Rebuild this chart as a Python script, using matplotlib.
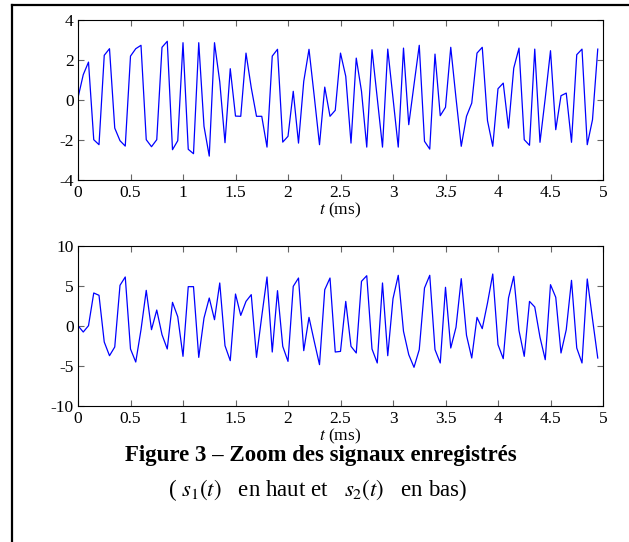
import numpy as np
import matplotlib.pyplot as plt
from matplotlib.lines import Line2D

dt = 0.05  # ms

s1 = [0.1, 1.25, 1.88, -2.0, -2.25, 2.22, 2.55, -1.42, -2.05, -2.32,
      2.18, 2.55, 2.72, -2.0, -2.35, -2.0, 2.62, 2.92, -2.5, -2.05,
      2.85, -2.48, -2.7, 2.85, -1.33, -2.82, 2.85, 0.9, -2.15, 1.55,
      -0.82, -0.83, 2.33, 0.6, -0.83, -0.83, -2.37, 2.18, 2.52, -2.12,
      -1.83, 0.42, -2.17, 0.92, 2.52, 0.17, -2.25, 0.63, -0.83, -0.53,
      2.33, 1.17, -2.17, 2.08, 0.42, -2.37, 2.5, 0.08, -2.37, 2.53,
      0.08, -2.37, 2.58, -1.25, 0.75, 2.72, -2.08, -2.47, 2.28, -0.8,
      -0.38, 2.62, 0.08, -2.33, -0.83, -0.17, 2.33, 2.62, -1.05, -2.33,
      0.55, 0.83, -1.42, 1.58, 2.58, -2.0, -2.28, 2.53, -2.13, 0.08,
      2.45, -1.5, 0.2, 0.33, -2.13, 2.25, 2.53, -2.25, -1.0, 2.53]

s2 = [0.0, -0.79, 0.0, 4.09, 3.8, -2.04, -3.75, -2.66, 5.05, 6.09,
      -2.91, -4.54, -0.5, 4.42, -0.5, 1.96, -1.12, -2.91, 2.92, 1.12,
      -3.83, 4.88, 4.88, -3.96, 0.96, 3.46, 0.75, 5.34, -2.5, -4.37,
      3.96, 1.29, 3.04, 3.88, -3.96, 1.17, 6.09, -3.29, 4.38, -2.58,
      -4.46, 4.92, 5.96, -3.12, 1.04, -1.96, -4.87, 4.5, 5.96, -3.29,
      -3.21, 3.04, -2.58, -3.41, 5.55, 6.25, -2.91, -4.66, 5.34, -3.75,
      3.38, 6.3, -0.7, -3.62, -5.2, -2.99, 4.71, 6.3, -2.99, -4.66,
      4.8, -2.79, -0.2, 5.88, -1.2, -4.04, 1.04, -0.37, 2.84, 6.46,
      -2.37, -4.12, 3.46, 6.17, -0.62, -3.83, 3.04, 2.34, -1.45, -4.25,
      5.13, 3.55, -3.41, -0.5, 5.67, -2.79, -4.66, 5.84, 0.84, -4.04]

t = np.arange(len(s1)) * dt

xticks = [0, 0.5, 1, 1.5, 2, 2.5, 3, 3.5, 4, 4.5, 5]
xlabels = ["0", "0.5", "1", "1.5", "2", "2.5", "3", "3.5", "4", "4.5", "5"]
yticks1 = [-4, -2, 0, 2, 4]
yticks2 = [-10, -5, 0, 5, 10]

plt.rcParams['font.family'] = ['Liberation Serif', 'DejaVu Serif']
plt.rcParams['mathtext.fontset'] = 'stix'

W, H = 629, 542
fig = plt.figure(figsize=(W / 100, H / 100), dpi=100)

ax1 = fig.add_axes([78 / W, 1 - 179.7 / H, 525 / W, 160 / H])
ax2 = fig.add_axes([78 / W, 1 - 405.7 / H, 525 / W, 160 / H])


def style(ax, yt):
  ax.set_xlim(0, 5)
  ax.set_xticks(xticks)
  ax.set_xticklabels(xlabels)
  ax.set_yticks(yt)
  ax.set_yticklabels([str(v) for v in yt])
  ax.set_ylim(yt[0], yt[-1])
  ax.tick_params(direction='in', top=True, right=True, length=4,
                 width=0.8, color='0.4', labelsize=12.5)
  ax.tick_params(axis='x', pad=4)
  ax.tick_params(axis='y', pad=3)
  for sp in ax.spines.values():
    sp.set_linewidth(0.8)
  ax.set_xlabel(r"$t$ (ms)", labelpad=0, fontsize=12.5)


ax1.plot(t, s1, color=(0, 0, 1), lw=0.9)
style(ax1, yticks1)
ax1.get_xticklabels()[7].set_style('italic')

ax2.plot(t, s2, color=(0, 0, 1), lw=0.9)
style(ax2, yticks2)

fig.text(0.51, 1 - 456 / H, "Figure 3 \u2013 Zoom des signaux enregistrés",
         ha='center', va='center', fontsize=16.5, fontweight='bold')
fig.text(0.505, 1 - 490 / H, r"( $s_1(t)$   en haut et   $s_2(t)$   en bas)",
         ha='center', va='center', fontsize=16.5)

# outer frame (left and top only)
fx = 12 / W
fy = 1 - 5 / H
fig.add_artist(Line2D([fx, fx], [0, fy], transform=fig.transFigure, color='k', lw=1.6))
fig.add_artist(Line2D([fx, 1], [fy, fy], transform=fig.transFigure, color='k', lw=1.6))

fig.savefig("out.png", dpi=100)
